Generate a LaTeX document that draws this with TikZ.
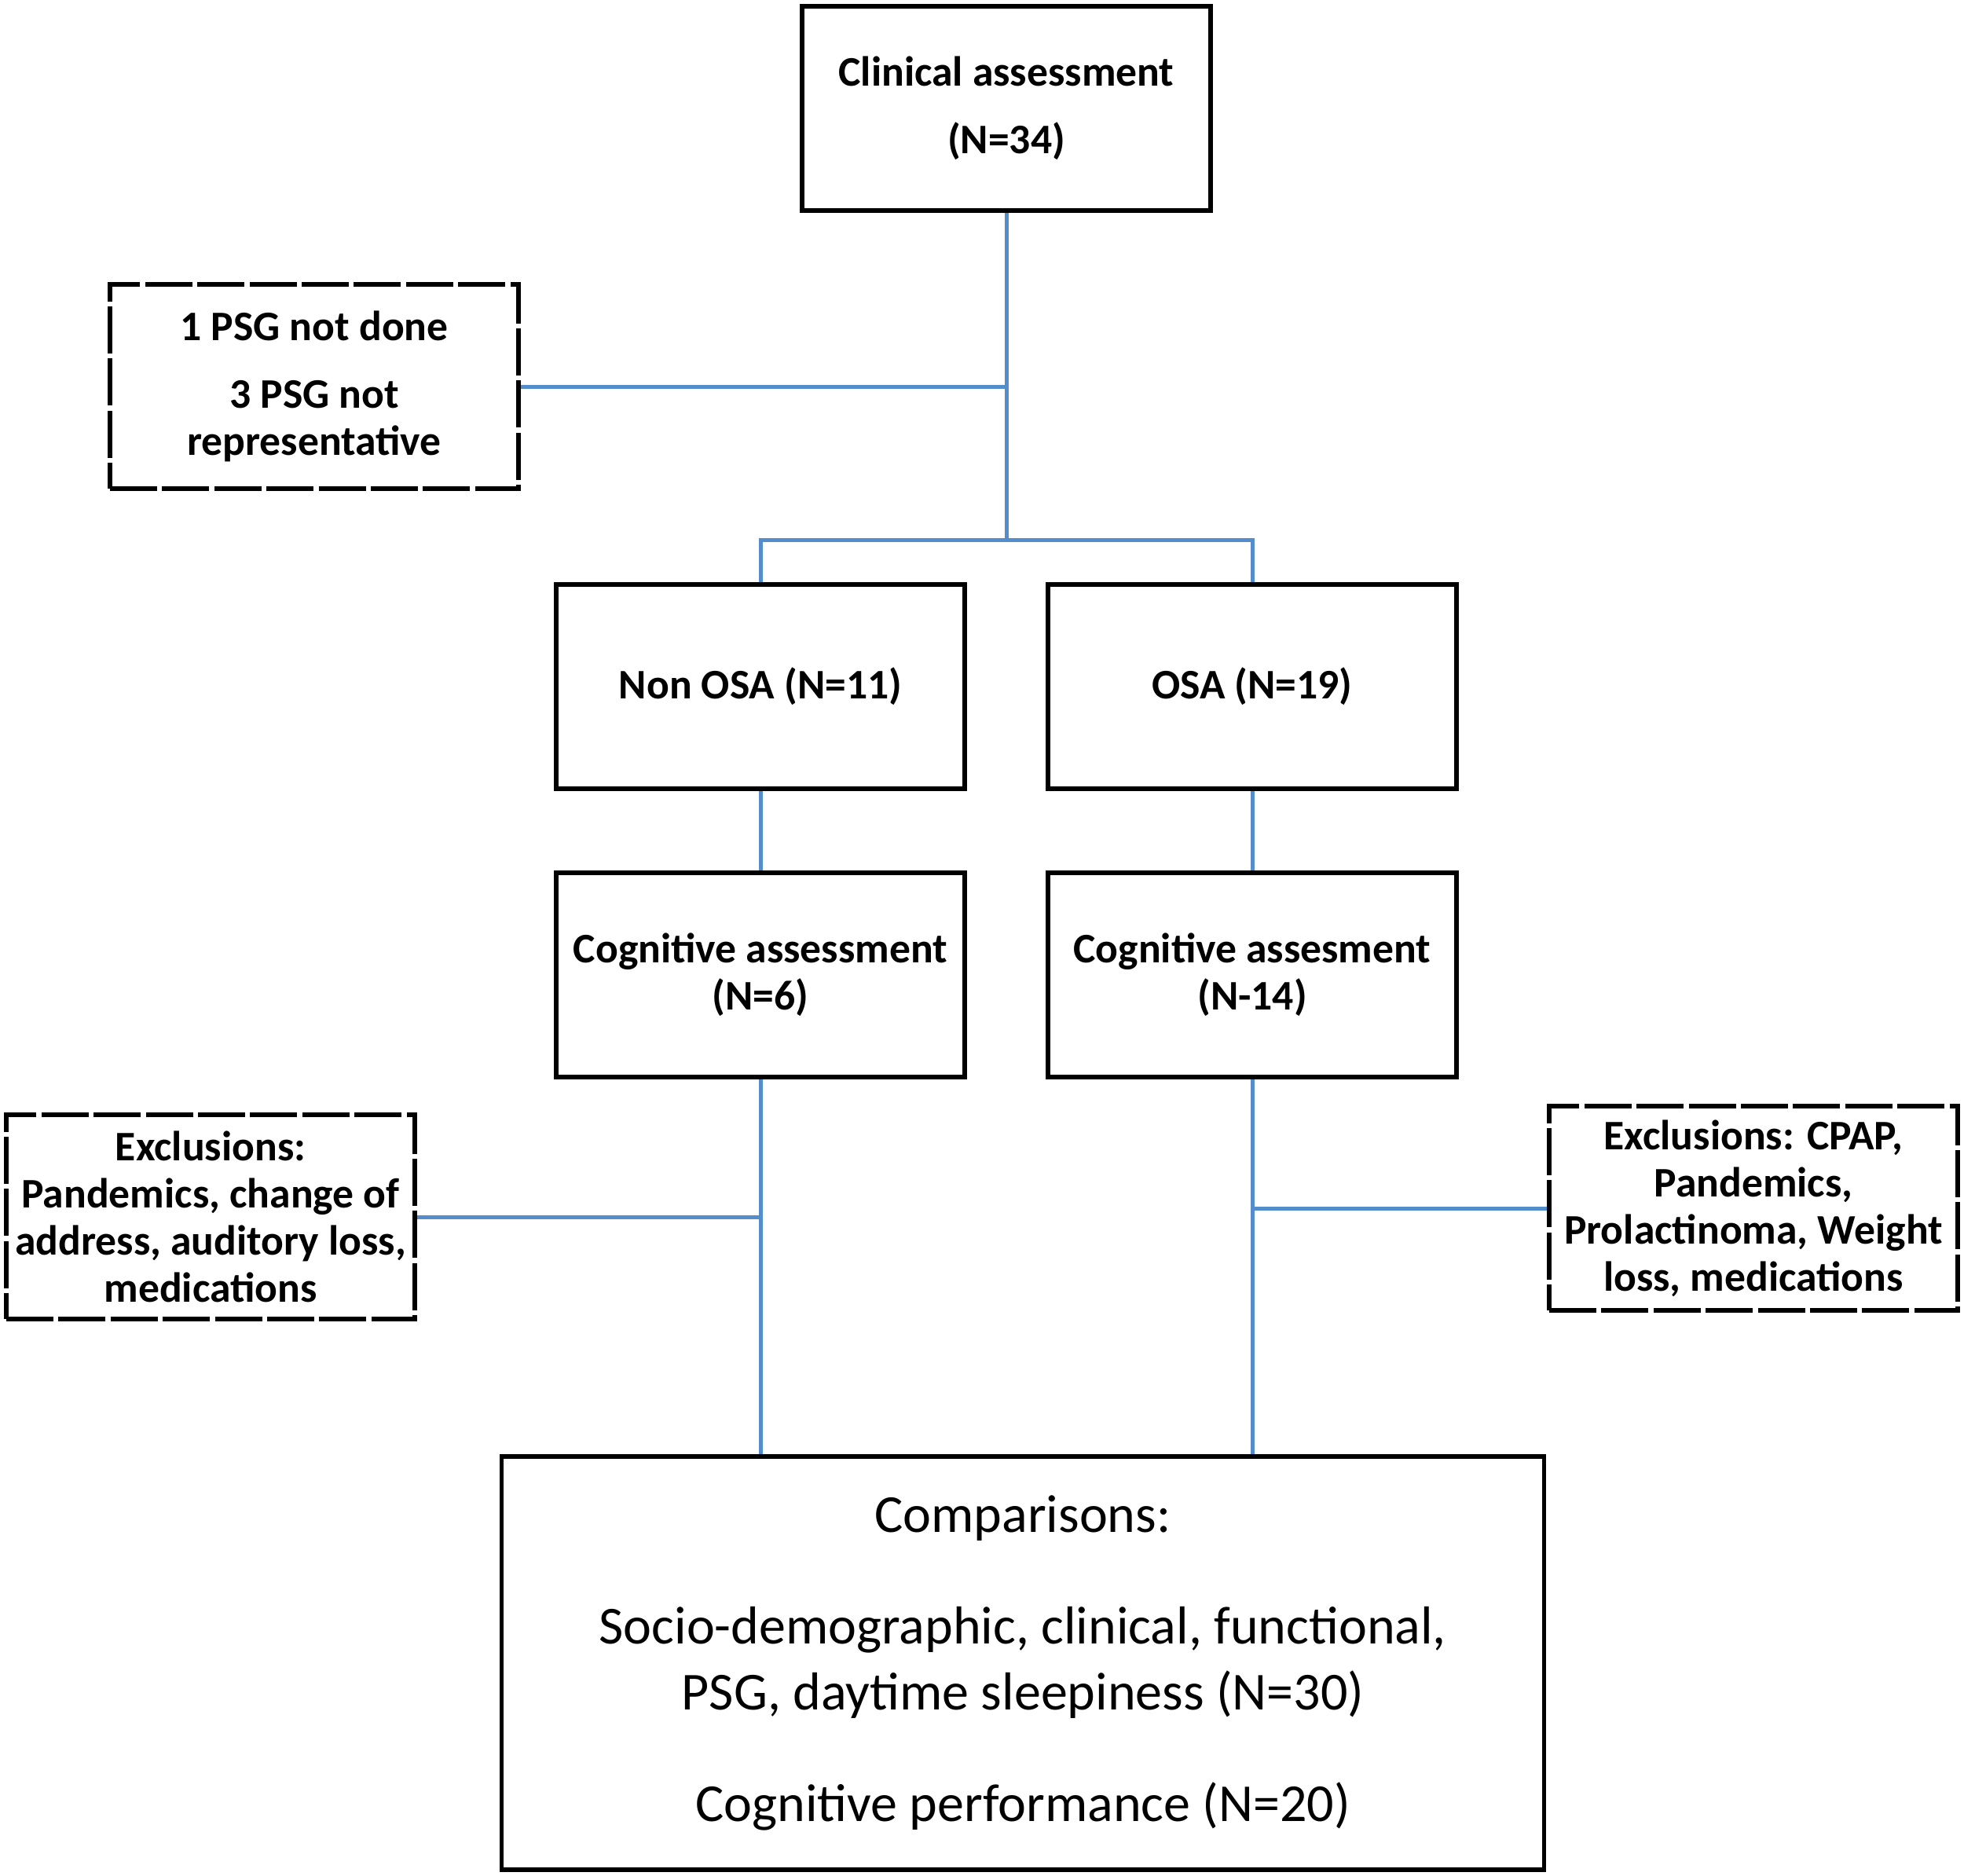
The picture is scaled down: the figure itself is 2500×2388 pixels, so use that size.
\documentclass[tikz,border=0pt]{standalone}
\usepackage{fontspec}
\setmainfont{Carlito}
\definecolor{linkblue}{RGB}{84,141,204}
\tikzset{
  box/.style={draw=black, line width=1.3pt, fill=white, inner sep=0pt, align=center,
    font=\fontsize{13.4}{15}\selectfont\bfseries},
  bigbox/.style={box, minimum width=130pt, minimum height=65pt},
  dbox/.style={bigbox, dash pattern=on 15pt off 1.6pt},
  conn/.style={draw=linkblue, line width=1.25pt},
}
\begin{document}
\begin{tikzpicture}[x=0.25pt, y=-0.25pt]
\useasboundingbox[fill=white] (0,0) rectangle (2500,2388);

\node[bigbox] (clin) at (1281,138) {Clinical assessment\\[6.5pt](N=34)};
\node[dbox] (psg) at (400,492) {1 PSG not done\\[6.5pt]3 PSG not\\representative};
\node[bigbox] (nonosa) at (968,874) {Non OSA (N=11)};
\node[bigbox] (osa) at (1594,874) {OSA (N=19)};
\node[bigbox] (cog1) at (968,1241) {Cognitive assessment\\(N=6)};
\node[bigbox] (cog2) at (1594,1241) {Cognitive assesment\\(N-14)};
\node[dbox] (excl1) at (268,1549) {Exclusions:\\Pandemics, change of\\address, auditory loss,\\medications};
\node[dbox] (excl2) at (2232,1538) {Exclusions: CPAP,\\Pandemics,\\Prolactinoma, Weight\\loss, medications};
\node[box, minimum width=331.75pt, minimum height=131.5pt,
  font=\fontsize{17}{21}\selectfont] (comp) at (1302,2117)
  {Comparisons:\\[14.5pt]Socio-demographic, clinical, functional,\\PSG, daytime sleepiness (N=30)\\[14.5pt]Cognitive performance (N=20)};

\coordinate (br) at (1281,687);

\draw[conn] (clin.south) -- (br);
\draw[conn] (nonosa.north) |- (br) -| (osa.north);
\draw[conn] (psg.east) -- (psg.east -| clin.south);
\draw[conn] (nonosa.south) -- (cog1.north);
\draw[conn] (osa.south) -- (cog2.north);
\draw[conn] (cog1.south) -- (cog1.south |- comp.north);
\draw[conn] (cog2.south) -- (cog2.south |- comp.north);
\draw[conn] (excl1.east) -- (excl1.east -| cog1.south);
\draw[conn] (excl2.west) -- (excl2.west -| cog2.south);
\end{tikzpicture}
\end{document}
